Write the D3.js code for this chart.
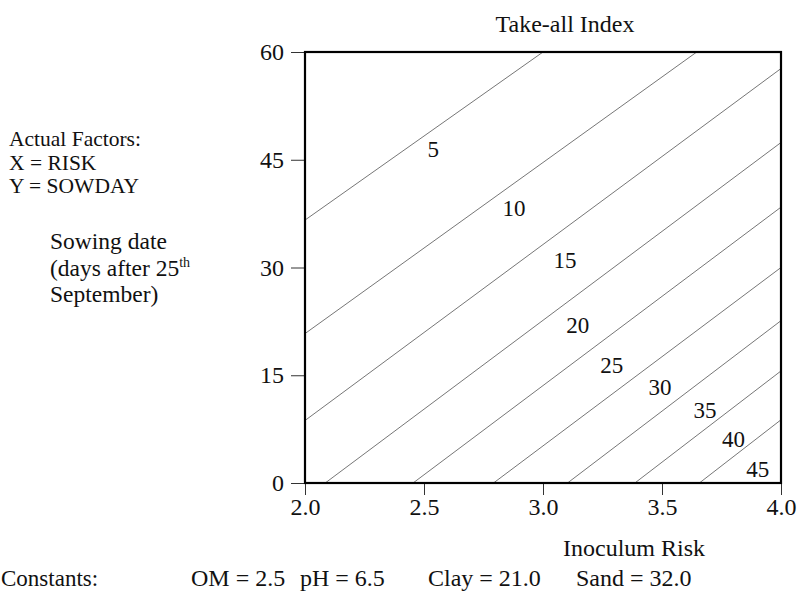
<!DOCTYPE html>
<html>
<head>
<meta charset="utf-8">
<script src="https://cdn.jsdelivr.net/npm/d3@7"></script>
<style>
  html, body { margin: 0; padding: 0; background: #fff; }
  svg text { font-family: "Liberation Serif", "DejaVu Serif", serif; fill: #111; }
</style>
</head>
<body>
<svg id="chart" width="811" height="594"></svg>
<script>
// ---- data ----
const xTicks = [2.0, 2.5, 3.0, 3.5, 4.0];
const yTicks = [0, 15, 30, 45, 60];
const levels = [5, 10, 15, 20, 25, 30, 35, 40, 45];
// contour end points [risk, sowday] where each line meets the frame
const lineStarts = [[2.0, 36.6], [2.0, 20.8], [2.0, 8.7], [2.085, 0], [2.454, 0], [2.792, 0], [3.103, 0], [3.386, 0], [3.657, 0]];
const lineEnds   = [[3.0, 60], [3.646, 60], [4.0, 57.7], [4.0, 47.4], [4.0, 38.4], [4.0, 30.0], [4.0, 22.6], [4.0, 15.6], [4.0, 8.8]];
// label positions [risk, sowday]
const labelPos = [[2.539, 46.4], [2.878, 38.2], [3.092, 31.0], [3.146, 21.9], [3.289, 16.4], [3.492, 13.3], [3.681, 10.1], [3.80, 6.1], [3.902, 1.9]];
const factorLines = ["Actual Factors:", "X = RISK", "Y = SOWDAY"];
const yTitleLines = ["Sowing date", "(days after 25", "September)"];
const constants = [["OM = 2.5", 191], ["pH = 6.5", 300], ["Clay = 21.0", 428], ["Sand = 32.0", 576]];

const svg = d3.select("#chart");
const x = d3.scaleLinear().domain([2, 4]).range([305, 781]);
const y = d3.scaleLinear().domain([0, 60]).range([483, 52]);

// contour lines
const g = svg.append("g");
g.selectAll("line.c").data(levels).join("line")
  .attr("class", "c")
  .attr("x1", (d, i) => x(lineStarts[i][0])).attr("y1", (d, i) => y(lineStarts[i][1]))
  .attr("x2", (d, i) => x(lineEnds[i][0])).attr("y2", (d, i) => y(lineEnds[i][1]))
  .attr("stroke", "#666").attr("stroke-width", 0.9);

g.selectAll("text.lab").data(levels).join("text")
  .attr("class", "lab")
  .attr("x", (d, i) => x(labelPos[i][0])).attr("y", (d, i) => y(labelPos[i][1]))
  .attr("text-anchor", "middle").attr("dominant-baseline", "central")
  .attr("font-size", 23).text(d => d);

// axes
const xAxis = d3.axisBottom(x).tickValues(xTicks).tickFormat(d3.format(".1f")).tickSize(12).tickPadding(3);
const yAxis = d3.axisLeft(y).tickValues(yTicks).tickFormat(d3.format("d")).tickSize(14).tickPadding(7);
const gx = svg.append("g").attr("transform", "translate(0,483)").call(xAxis);
const gy = svg.append("g").attr("transform", "translate(305,0)").call(yAxis);
[gx, gy].forEach(a => {
  a.select(".domain").remove();
  a.selectAll(".tick line").attr("stroke", "#333").attr("stroke-width", 1);
  a.selectAll(".tick text").attr("font-size", 24).attr("fill", "#111")
    .style("font-family", '"Liberation Serif", serif');
});

// frame
svg.append("rect").attr("x", x(2)).attr("y", y(60))
  .attr("width", x(4) - x(2)).attr("height", y(0) - y(60))
  .attr("fill", "none").attr("stroke", "#000").attr("stroke-width", 2.2);

// titles
svg.append("text").attr("x", 565).attr("y", 32).attr("text-anchor", "middle")
  .attr("font-size", 24).text("Take-all Index");
svg.append("text").attr("x", 634).attr("y", 556).attr("text-anchor", "middle")
  .attr("font-size", 24).text("Inoculum Risk");

// left annotations
svg.append("g").selectAll("text").data(factorLines).join("text")
  .attr("x", 9).attr("y", (d, i) => 146 + i * 23.5)
  .attr("font-size", 21.5).text(d => d);

const yt = svg.append("text").attr("x", 50).attr("y", 249).attr("font-size", 23.5);
yTitleLines.forEach((t, i) => {
  yt.append("tspan").attr("x", 50).attr("dy", i === 0 ? 0 : (i === 2 ? 35.5 : 26.5)).text(t);
  if (i === 1) yt.append("tspan").attr("dy", -9).attr("font-size", 14).text("th");
});

// constants row
svg.append("text").attr("x", 1).attr("y", 586).attr("font-size", 23).text("Constants:");
svg.append("g").selectAll("text").data(constants).join("text")
  .attr("x", d => d[1]).attr("y", 586).attr("font-size", 24).text(d => d[0]);
</script>
</body>
</html>
